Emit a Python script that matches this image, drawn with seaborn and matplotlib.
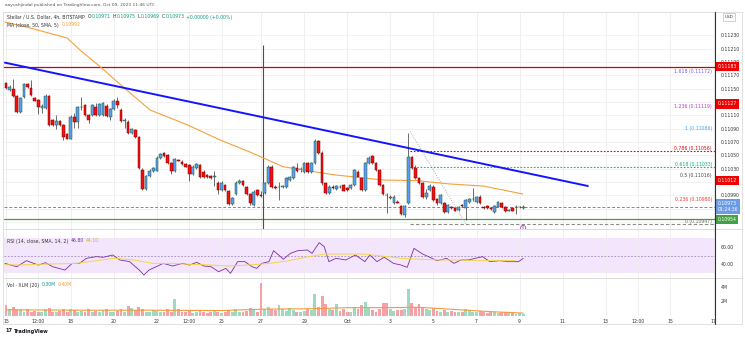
import matplotlib
matplotlib.use("Agg")
import matplotlib.pyplot as plt
from matplotlib.lines import Line2D
from matplotlib.transforms import blended_transform_factory
import numpy as np
import seaborn as sns

# ---------------- 4h candles ----------------
opens = [0.11158, 0.11148, 0.11149, 0.11139, 0.11115, 0.11137, 0.11157, 0.11151, 0.11136, 0.11133,
         0.11121, 0.11121, 0.11139, 0.11103, 0.11095, 0.11101, 0.11095, 0.11082, 0.11075, 0.11108,
         0.11100, 0.11122, 0.11125, 0.11110, 0.11110, 0.11123, 0.11110, 0.11110, 0.11124, 0.11108,
         0.11119, 0.11131, 0.11118, 0.11102, 0.11100, 0.11083, 0.11088, 0.11077, 0.11028, 0.10999,
         0.11019, 0.11027, 0.11027, 0.11046, 0.11053, 0.11050, 0.11038, 0.11027, 0.11043, 0.11040,
         0.11037, 0.11035, 0.11022, 0.11031, 0.11035, 0.11025, 0.11020, 0.11019, 0.11017, 0.11009,
         0.10998, 0.11005, 0.10997, 0.10977, 0.10992, 0.11009, 0.11012, 0.11003, 0.10992, 0.10975,
         0.10998, 0.10990, 0.10993, 0.11008, 0.11033, 0.11003, 0.11002, 0.11002, 0.11003, 0.11013,
         0.11016, 0.11031, 0.11029, 0.11025, 0.11038, 0.11025, 0.11038, 0.11072, 0.11054, 0.11008,
         0.10993, 0.11003, 0.10999, 0.11003, 0.11005, 0.11001, 0.11001, 0.11005, 0.11025, 0.11016,
         0.10998, 0.11038, 0.11049, 0.11038, 0.11028, 0.11005, 0.10991, 0.10986, 0.10978, 0.10980,
         0.10974, 0.10960, 0.10979, 0.11047, 0.11031, 0.11016, 0.11008, 0.10987, 0.10998, 0.11003,
         0.10984, 0.10978, 0.10978, 0.10965, 0.10972, 0.10971, 0.10968, 0.10975, 0.10971, 0.10980,
         0.10984, 0.10980, 0.10988, 0.10972, 0.10974, 0.10971, 0.10965, 0.10973, 0.10978, 0.10973,
         0.10967, 0.10971, 0.10972, 0.10972, 0.10971]
highs = [0.11160, 0.11156, 0.11164, 0.11141, 0.11137, 0.11158, 0.11158, 0.11163, 0.11137, 0.11134,
         0.11127, 0.11142, 0.11140, 0.11104, 0.11110, 0.11103, 0.11097, 0.11083, 0.11110, 0.11113,
         0.11124, 0.11138, 0.11127, 0.11112, 0.11127, 0.11128, 0.11128, 0.11130, 0.11127, 0.11121,
         0.11134, 0.11137, 0.11121, 0.11106, 0.11103, 0.11091, 0.11089, 0.11079, 0.11031, 0.11020,
         0.11029, 0.11032, 0.11049, 0.11053, 0.11055, 0.11052, 0.11040, 0.11046, 0.11044, 0.11043,
         0.11038, 0.11037, 0.11035, 0.11038, 0.11037, 0.11028, 0.11022, 0.11020, 0.11027, 0.11011,
         0.11011, 0.11007, 0.10998, 0.10987, 0.11011, 0.11014, 0.11013, 0.11004, 0.10993, 0.10998,
         0.10999, 0.10996, 0.11010, 0.11035, 0.11035, 0.11005, 0.11010, 0.11005, 0.11017, 0.11019,
         0.11034, 0.11039, 0.11032, 0.11040, 0.11040, 0.11040, 0.11074, 0.11073, 0.11056, 0.11010,
         0.11005, 0.11005, 0.11005, 0.11005, 0.11007, 0.11002, 0.11007, 0.11029, 0.11028, 0.11017,
         0.11040, 0.11049, 0.11050, 0.11040, 0.11029, 0.11007, 0.10993, 0.10990, 0.10990, 0.10983,
         0.10975, 0.10975, 0.11083, 0.11049, 0.11035, 0.11017, 0.11010, 0.10999, 0.11007, 0.11005,
         0.10986, 0.10992, 0.10980, 0.10977, 0.10974, 0.10972, 0.10974, 0.10977, 0.10984, 0.10986,
         0.11001, 0.10989, 0.10990, 0.10974, 0.10975, 0.10972, 0.10975, 0.10981, 0.10980, 0.10974,
         0.10969, 0.10971, 0.10975, 0.10974, 0.10975]
lows = [0.11149, 0.11147, 0.11138, 0.11113, 0.11113, 0.11136, 0.11151, 0.11139, 0.11131, 0.11112,
        0.11113, 0.11119, 0.11094, 0.11094, 0.11090, 0.11094, 0.11073, 0.11074, 0.11074, 0.11091,
        0.11091, 0.11118, 0.11109, 0.11098, 0.11109, 0.11109, 0.11109, 0.11109, 0.11107, 0.11103,
        0.11118, 0.11121, 0.11100, 0.11091, 0.11082, 0.11082, 0.11076, 0.11029, 0.10998, 0.10998,
        0.11017, 0.11025, 0.11026, 0.11045, 0.11047, 0.11037, 0.11022, 0.11025, 0.11041, 0.11035,
        0.11032, 0.11012, 0.11020, 0.11029, 0.11016, 0.11016, 0.11016, 0.11014, 0.11004, 0.10992,
        0.10996, 0.10996, 0.10975, 0.10975, 0.10990, 0.11007, 0.11004, 0.10990, 0.10975, 0.10974,
        0.10989, 0.10987, 0.10992, 0.11007, 0.11001, 0.10999, 0.10983, 0.11001, 0.11001, 0.11011,
        0.11014, 0.11025, 0.11025, 0.11024, 0.11023, 0.11024, 0.11037, 0.11052, 0.11005, 0.10992,
        0.10992, 0.10999, 0.10998, 0.11001, 0.10996, 0.10996, 0.10999, 0.11004, 0.11017, 0.10996,
        0.10996, 0.11037, 0.11037, 0.11026, 0.11004, 0.10990, 0.10963, 0.10984, 0.10977, 0.10978,
        0.10960, 0.10958, 0.10977, 0.11029, 0.11014, 0.11007, 0.10986, 0.10985, 0.10996, 0.10981,
        0.10975, 0.10977, 0.10963, 0.10964, 0.10969, 0.10966, 0.10966, 0.10972, 0.10953, 0.10978,
        0.10981, 0.10978, 0.10977, 0.10970, 0.10969, 0.10968, 0.10963, 0.10972, 0.10971, 0.10965,
        0.10966, 0.10966, 0.10962, 0.10971, 0.10969]
closes = [0.11151, 0.11153, 0.11139, 0.11115, 0.11136, 0.11157, 0.11152, 0.11140, 0.11132, 0.11122,
          0.11124, 0.11139, 0.11095, 0.11095, 0.11101, 0.11095, 0.11077, 0.11075, 0.11108, 0.11100,
          0.11122, 0.11123, 0.11110, 0.11103, 0.11125, 0.11110, 0.11127, 0.11128, 0.11109, 0.11119,
          0.11132, 0.11125, 0.11102, 0.11103, 0.11083, 0.11089, 0.11077, 0.11031, 0.10999, 0.11019,
          0.11027, 0.11031, 0.11046, 0.11052, 0.11049, 0.11039, 0.11027, 0.11044, 0.11042, 0.11037,
          0.11033, 0.11022, 0.11033, 0.11037, 0.11018, 0.11017, 0.11018, 0.11016, 0.11019, 0.10998,
          0.11009, 0.10998, 0.10977, 0.10986, 0.11009, 0.11012, 0.11005, 0.10992, 0.10978, 0.10995,
          0.10990, 0.10989, 0.11008, 0.11033, 0.11003, 0.11001, 0.11003, 0.11004, 0.11016, 0.11017,
          0.11032, 0.11027, 0.11030, 0.11038, 0.11025, 0.11038, 0.11072, 0.11053, 0.11008, 0.10993,
          0.11003, 0.11001, 0.11004, 0.11002, 0.10997, 0.10998, 0.11005, 0.11028, 0.11018, 0.10998,
          0.11038, 0.11046, 0.11038, 0.11028, 0.11005, 0.10992, 0.10990, 0.10988, 0.10988, 0.10979,
          0.10962, 0.10974, 0.11048, 0.11031, 0.11016, 0.11008, 0.10987, 0.10993, 0.11004, 0.10983,
          0.10978, 0.10990, 0.10965, 0.10975, 0.10971, 0.10967, 0.10972, 0.10974, 0.10983, 0.10984,
          0.10985, 0.10987, 0.10978, 0.10971, 0.10971, 0.10970, 0.10974, 0.10980, 0.10973, 0.10967,
          0.10968, 0.10967, 0.10973, 0.10973, 0.10973]
volumes_m = [1.5, 1.0, 1.2, 1.0, 1.0, 0.6, 0.9, 0.5, 0.7, 0.6,
             0.5, 0.9, 1.1, 0.6, 0.5, 0.7, 1.0, 0.6, 0.9, 0.8,
             0.6, 0.7, 0.5, 0.9, 0.6, 0.7, 0.5, 0.8, 0.9, 0.6,
             0.5, 0.7, 0.9, 0.6, 1.4, 1.1, 0.8, 1.2, 0.9, 0.6,
             0.5, 0.8, 0.7, 0.6, 0.5, 0.9, 0.6, 2.3, 1.0, 0.6,
             0.5, 0.7, 0.4, 0.6, 0.8, 0.5, 0.4, 0.6, 0.7, 0.5,
             0.4, 0.5, 0.8, 0.6, 0.9, 0.5, 0.6, 0.7, 1.1, 0.8,
             0.6, 4.5, 0.9, 1.2, 1.0, 0.8, 1.5, 0.9, 0.7, 1.1,
             0.8, 0.6, 0.5, 0.7, 0.9, 0.8, 3.0, 1.3, 2.7, 1.7,
             1.0, 0.8, 1.6, 0.7, 0.9, 0.5, 0.6, 1.2, 0.9, 1.5,
             1.9, 1.1, 0.8, 0.6, 0.9, 1.8, 1.8, 0.9, 0.7, 0.8,
             0.8, 1.0, 3.7, 1.8, 1.2, 1.7, 1.2, 0.9, 0.8, 1.1,
             0.7, 0.6, 0.8, 0.5, 0.7, 0.6, 0.5, 0.6, 0.9, 0.7,
             0.6, 0.5, 0.7, 0.5, 0.4, 0.6, 0.5, 0.4, 0.5, 0.6,
             0.4, 0.5, 0.3, 0.4, 0.3]

# moving average of price (bar index, value)
ma_idx = [-0.3, 6.7, 17.0, 20.6, 26.2, 32.3, 40.1, 50.4, 59.6, 67.9, 77.1, 91.0, 105.0, 114.4, 123.6, 132.8, 143.9]
ma_val = [0.11250, 0.11241, 0.11226, 0.11208, 0.11183, 0.11154, 0.11118, 0.11096, 0.11073, 0.11055,
          0.11033, 0.11021, 0.11013, 0.11012, 0.11007, 0.11004, 0.10992]

# descending trendline and horizontal levels
trend_idx = [-0.3, 162.0]
trend_val = [0.11189, 0.11004]
resistance_level = 0.11183
support_level = 0.10954
marker_bar = 71.5
marker_top = 0.11216

# fibonacci retracement anchors
fib_idx = [112.5, 128.0]
fib_high, fib_low = 0.11086, 0.10947
fib_ratios = [0, 0.236, 0.5, 0.618, 0.786, 1, 1.236, 1.618]
fib_colors = ["#6f6f6f", "#e53935", "#444444", "#00b07a", "#e00000", "#42a5f5", "#b03cc8", "#6a5cff"]

# RSI (bar index, value) and its moving average
rsi_idx = [-0.3, 3.0, 5.7, 9.0, 11.0, 13.0, 16.4, 18.4, 20.4, 22.4, 25.1, 27.1, 29.7, 31.7, 34.4, 37.1,
           38.4, 39.8, 41.8, 43.8, 46.4, 49.1, 51.1, 53.1, 55.1, 57.1, 59.2, 61.2, 62.5, 64.5, 66.5,
           68.5, 69.8, 71.2, 73.2, 74.5, 75.9, 77.2, 79.2, 81.2, 83.9, 85.2, 87.2, 88.6, 89.9, 91.9,
           94.6, 97.3, 99.9, 101.3, 103.3, 105.3, 107.9, 110.0, 111.7, 113.6, 116.0, 118.0, 120.0,
           122.7, 124.7, 126.7, 128.7, 130.7, 132.7, 134.7, 137.4, 140.0, 142.7, 144.0]
rsi_val = [41.0, 37.2, 44.1, 39.1, 41.8, 37.2, 33.4, 41.0, 41.0, 46.8, 48.7, 48.0, 50.6, 44.9, 43.0, 33.4,
           27.7, 33.4, 37.2, 41.0, 38.0, 41.0, 39.1, 42.2, 38.0, 37.2, 31.5, 35.3, 29.6, 43.0, 43.0,
           37.2, 35.3, 41.0, 43.0, 55.5, 50.6, 45.7, 52.5, 55.5, 56.3, 52.5, 64.7, 60.1, 43.0, 46.8,
           44.9, 50.6, 43.0, 50.6, 43.0, 48.0, 41.0, 39.1, 36.5, 58.2, 51.7, 48.0, 44.1,
           46.8, 41.0, 44.9, 44.9, 46.8, 48.7, 43.0, 44.1, 43.0, 43.0, 46.8]
rsi_ma_idx = [-0.3, 3.6, 11.6, 19.6, 25.1, 30.2, 35.6, 40.9, 46.2, 51.5, 57.1, 62.1, 67.5, 73.2, 78.1,
              83.4, 88.7, 94.0, 99.4, 104.7, 110.0, 115.4, 120.7, 126.0, 131.3, 136.6, 141.9]
rsi_ma_val = [39.5, 39.1, 40.3, 41.0, 44.1, 46.8, 44.9, 41.0, 41.0, 39.9, 39.1, 38.0, 39.1, 41.0, 43.7,
              48.0, 51.7, 51.7, 51.7, 49.4, 46.8, 45.7, 44.9, 44.9, 44.1, 44.1, 44.1]

# volume moving average (bar index, millions)
vol_ma_idx = [0, 20, 40, 60, 72, 85, 95, 105, 115, 125, 135, 144]
vol_ma_val = [0.85, 0.8, 0.8, 0.75, 0.95, 1.0, 1.15, 1.15, 1.2, 0.9, 0.6, 0.4]

# axis ticks
price_ticks = [0.10950, 0.10970, 0.10990, 0.11010, 0.11030, 0.11050, 0.11070, 0.11090,
               0.11110, 0.11130, 0.11150, 0.11170, 0.11190, 0.11210, 0.11230]
xtick_pos = [0, 9, 18, 30, 42, 51, 60, 71, 83, 95, 107, 119, 131, 143, 155, 167, 176, 185, 197]
xtick_labels = ["15", "12:00", "18", "20", "22", "12:00", "25", "27", "29", "Oct",
                "3", "5", "7", "9", "11", "13", "12:00", "15", "17"]

# ---------------- figure ----------------
sns.set_theme(style="white")
plt.rcParams["font.family"] = ["DejaVu Sans"]

W, H = 745, 340
fig = plt.figure(figsize=(W / 100, H / 100), dpi=100)
fig.patch.set_facecolor("white")


def box(l, t, r, b):
    return [l / W, 1 - b / H, (r - l) / W, (b - t) / H]


ax = fig.add_axes(box(4, 12, 715, 229))
ax_rsi = fig.add_axes(box(4, 229, 715, 278), sharex=ax)
ax_vol = fig.add_axes(box(4, 278, 715, 316), sharex=ax)
FS = 3.3
XMIN, XMAX = -0.56, 197.4

o, h, l, c = (np.array(v) for v in (opens, highs, lows, closes))
n = len(c)
idx = np.arange(n)
up = c >= o

# price pane
ax.vlines(idx, l, h, color="#333333", lw=0.5, zorder=3)
body_lo = np.minimum(o, c)
body_h = np.maximum(np.abs(c - o), 0.000012)
ax.bar(idx[up], body_h[up], bottom=body_lo[up], width=0.75, color="#5b9cf6",
       edgecolor="#1d5c2a", linewidth=0.35, zorder=4)
ax.bar(idx[~up], body_h[~up], bottom=body_lo[~up], width=0.75, color="#f50f0f",
       edgecolor="#7d0000", linewidth=0.35, zorder=4)

sns.lineplot(x=ma_idx, y=ma_val, ax=ax, color="#f5a03c", lw=0.8, zorder=3, legend=False)
ax.plot(trend_idx, trend_val, color="#1414ff", lw=1.4, zorder=5, solid_capstyle="round")
ax.axhline(resistance_level, color="#d00000", lw=0.9, zorder=2)
ax.axhline(support_level, color="#43a047", lw=0.9, zorder=2)
ax.axhline(c[-1], color="#4a8fe7", lw=0.7, ls=(0, (3, 2)), zorder=2)
ax.vlines(marker_bar, 0.1093, marker_top, color="#4d4d4d", lw=0.8, zorder=2)

# fibonacci retracement
ax.plot(fib_idx, [fib_high, fib_low], color="#a8a8a8", lw=0.7, ls=(0, (1, 1.5)), zorder=2)
blend = blended_transform_factory(ax.transAxes, ax.transData)
line_styles = {0: ("#8a8a8a", (0, (3, 2))), 0.618: ("#00c07a", (0, (1.5, 1.5))),
               0.786: ("#e00000", (0, (1.5, 1.5)))}
for r, col in zip(fib_ratios, fib_colors):
    lvl = fib_low + r * (fib_high - fib_low)
    if r in line_styles:
        lc, ls = line_styles[r]
        ax.plot([fib_idx[0], XMAX], [lvl, lvl], color=lc, ls=ls, lw=0.8, zorder=2)
    ax.text(0.9958, lvl, f"{r:g} ({lvl:.5f})", transform=blend, ha="right", va="bottom",
            fontsize=FS, color=col, zorder=6)

ax.text(n - 1, 0.10941, "5", fontsize=2.8, color="#9c27b0", ha="center", va="center",
        bbox=dict(boxstyle="circle,pad=0.15", fc="white", ec="#9c27b0", lw=0.5),
        zorder=7, clip_on=False)

# RSI pane
ax_rsi.axhspan(30, 70, color="#f3e5fc", lw=0, zorder=0)
ax_rsi.axhline(50, color="#9c8ab4", lw=0.6, ls=(0, (2, 2)))
sns.lineplot(x=rsi_idx, y=rsi_val, ax=ax_rsi, color="#7b2fa5", lw=0.6, legend=False)
sns.lineplot(x=rsi_ma_idx, y=rsi_ma_val, ax=ax_rsi, color="#f5d742", lw=0.7, legend=False)

# volume pane
bar_cols = np.where(up, "#9fd9c2", "#f5a1a8")
ax_vol.bar(idx, volumes_m, width=0.8, color=bar_cols, lw=0)
sns.lineplot(x=vol_ma_idx, y=vol_ma_val, ax=ax_vol, color="#f59a3a", lw=0.8, legend=False)

# axes cosmetics
for a in (ax, ax_rsi, ax_vol):
    for s in a.spines.values():
        s.set_visible(False)
    a.yaxis.tick_right()
    a.tick_params(axis="y", length=0, labelsize=FS, colors="#333333", pad=4)
    a.tick_params(axis="x", length=0)
    a.grid(True, axis="x", color="#ececec", lw=0.6)
    a.set_axisbelow(True)
    a.set_xlabel("")
    a.set_ylabel("")
    a.set_facecolor("white")

# price tags on the right scale; scale labels sitting under a tag are left blank
tags = [(resistance_level, f"{resistance_level:.5f}", "#f00000"),
        (0.11127, "0.11127", "#f00000"),
        (0.11012, "0.11012", "#f00000"),
        (c[-1], f"{c[-1]:.5f}\n01:24:36", "#6a9be6"),
        (support_level, f"{support_level:.5f}", "#43a047")]
tag_levels = [t[0] for t in tags]
tick_text = ["" if min(abs(t - v) for v in tag_levels) < 0.00006 else f"{t:.5f}"
             for t in price_ticks]

ax.grid(True, axis="y", color="#f0f0f0", lw=0.6)
ax.set_xlim(XMIN, XMAX)
ax.set_ylim(0.109395, 0.11265)
ax.set_yticks(price_ticks)
ax.set_yticklabels(tick_text)
ax_rsi.set_ylim(24.3, 80.3)
ax_rsi.set_yticks([40, 60])
ax_rsi.set_yticklabels(["40.00", "60.00"])
ax_vol.set_ylim(0, 5.24)
ax_vol.set_yticks([2, 4])
ax_vol.set_yticklabels(["2M", "4M"])
ax_vol.set_xticks(xtick_pos)
ax_vol.set_xticklabels(xtick_labels)
ax_vol.tick_params(axis="x", labelsize=FS, colors="#333333", pad=2)
ax.tick_params(labelbottom=False)
ax_rsi.tick_params(labelbottom=False)

for y, text, fc in tags:
    ax.text(1.0 + 2.5 / 711, y, text, transform=blend, ha="left", va="center", fontsize=FS,
            color="white", bbox=dict(boxstyle="square,pad=0.45", fc=fc, ec="none"),
            clip_on=False, zorder=10, linespacing=1.1)


# frame and pane separators
def fline(x0, y0, x1, y1, col, lw):
    fig.add_artist(Line2D([x0 / W, x1 / W], [1 - y0 / H, 1 - y1 / H], color=col, lw=lw))


fline(3, 12, 742, 12, "#dcdcdc", 0.6)
fline(3, 324, 742, 324, "#dcdcdc", 0.6)
fline(3, 12, 3, 324, "#dcdcdc", 0.6)
fline(742, 12, 742, 324, "#dcdcdc", 0.6)
fline(4, 229, 742, 229, "#d6d6d6", 0.6)
fline(4, 278, 742, 278, "#d6d6d6", 0.6)
fline(715, 12, 715, 324, "#333333", 0.8)

# legends and captions
renderer = fig.canvas.get_renderer()


def seq_text(x_px, y_px, parts, size=FS):
    x = x_px
    for part in parts:
        s, col, gap = part[:3]
        weight = part[3] if len(part) > 3 else "normal"
        t = fig.text(x / W, 1 - y_px / H, s, color=col, fontsize=size, va="center",
                     ha="left", fontweight=weight)
        x += t.get_window_extent(renderer=renderer).width + gap


green, grey = "#089981", "#333333"
chg = c[-1] - c[-2]
seq_text(5, 5, [("aayushjindal published on TradingView.com, Oct 09, 2023 11:46 UTC", "#555555", 0)], size=3.2)
seq_text(7, 17, [("Stellar / U.S. Dollar, 4h, BITSTAMP", grey, 2.5),
                 ("O", grey, 0.5), (f"{o[-1]:.5f}", green, 2),
                 ("H", grey, 0.5), (f"{h[-1]:.5f}", green, 2),
                 ("L", grey, 0.5), (f"{l[-1]:.5f}", green, 2),
                 ("C", grey, 0.5), (f"{c[-1]:.5f}", green, 2),
                 (f"{chg:+.5f} ({chg / c[-2] * 100:+.2f}%)", green, 0)])
seq_text(7, 25, [("MA (close, 50, SMA, 5)", grey, 2.5), (f"{ma_val[-1]:.5f}", "#f5a03c", 0)])
seq_text(7, 241, [("RSI (14, close, SMA, 14, 2)", grey, 2.5),
                  (f"{rsi_val[-1]:.2f}", "#7b2fa5", 2), (f"{rsi_ma_val[-1]:.2f}", "#d4b000", 0)])
seq_text(7, 285, [("Vol · XLM (20)", grey, 2.5),
                  (f"{volumes_m[-1]:.2f}M", green, 2), (f"{vol_ma_val[-1]:.2f}M", "#f59a3a", 0)])
seq_text(5, 331, [("17", "#131722", 1.5, "bold"), ("TradingView", "#131722", 0, "bold")], size=3.6)
fig.text(729 / W, 1 - 17 / H, "USD", fontsize=3.0, color="#333333", ha="center", va="center",
         bbox=dict(boxstyle="square,pad=0.4", fc="white", ec="#bdbdbd", lw=0.5))

fig.savefig("out.png", dpi=100)
